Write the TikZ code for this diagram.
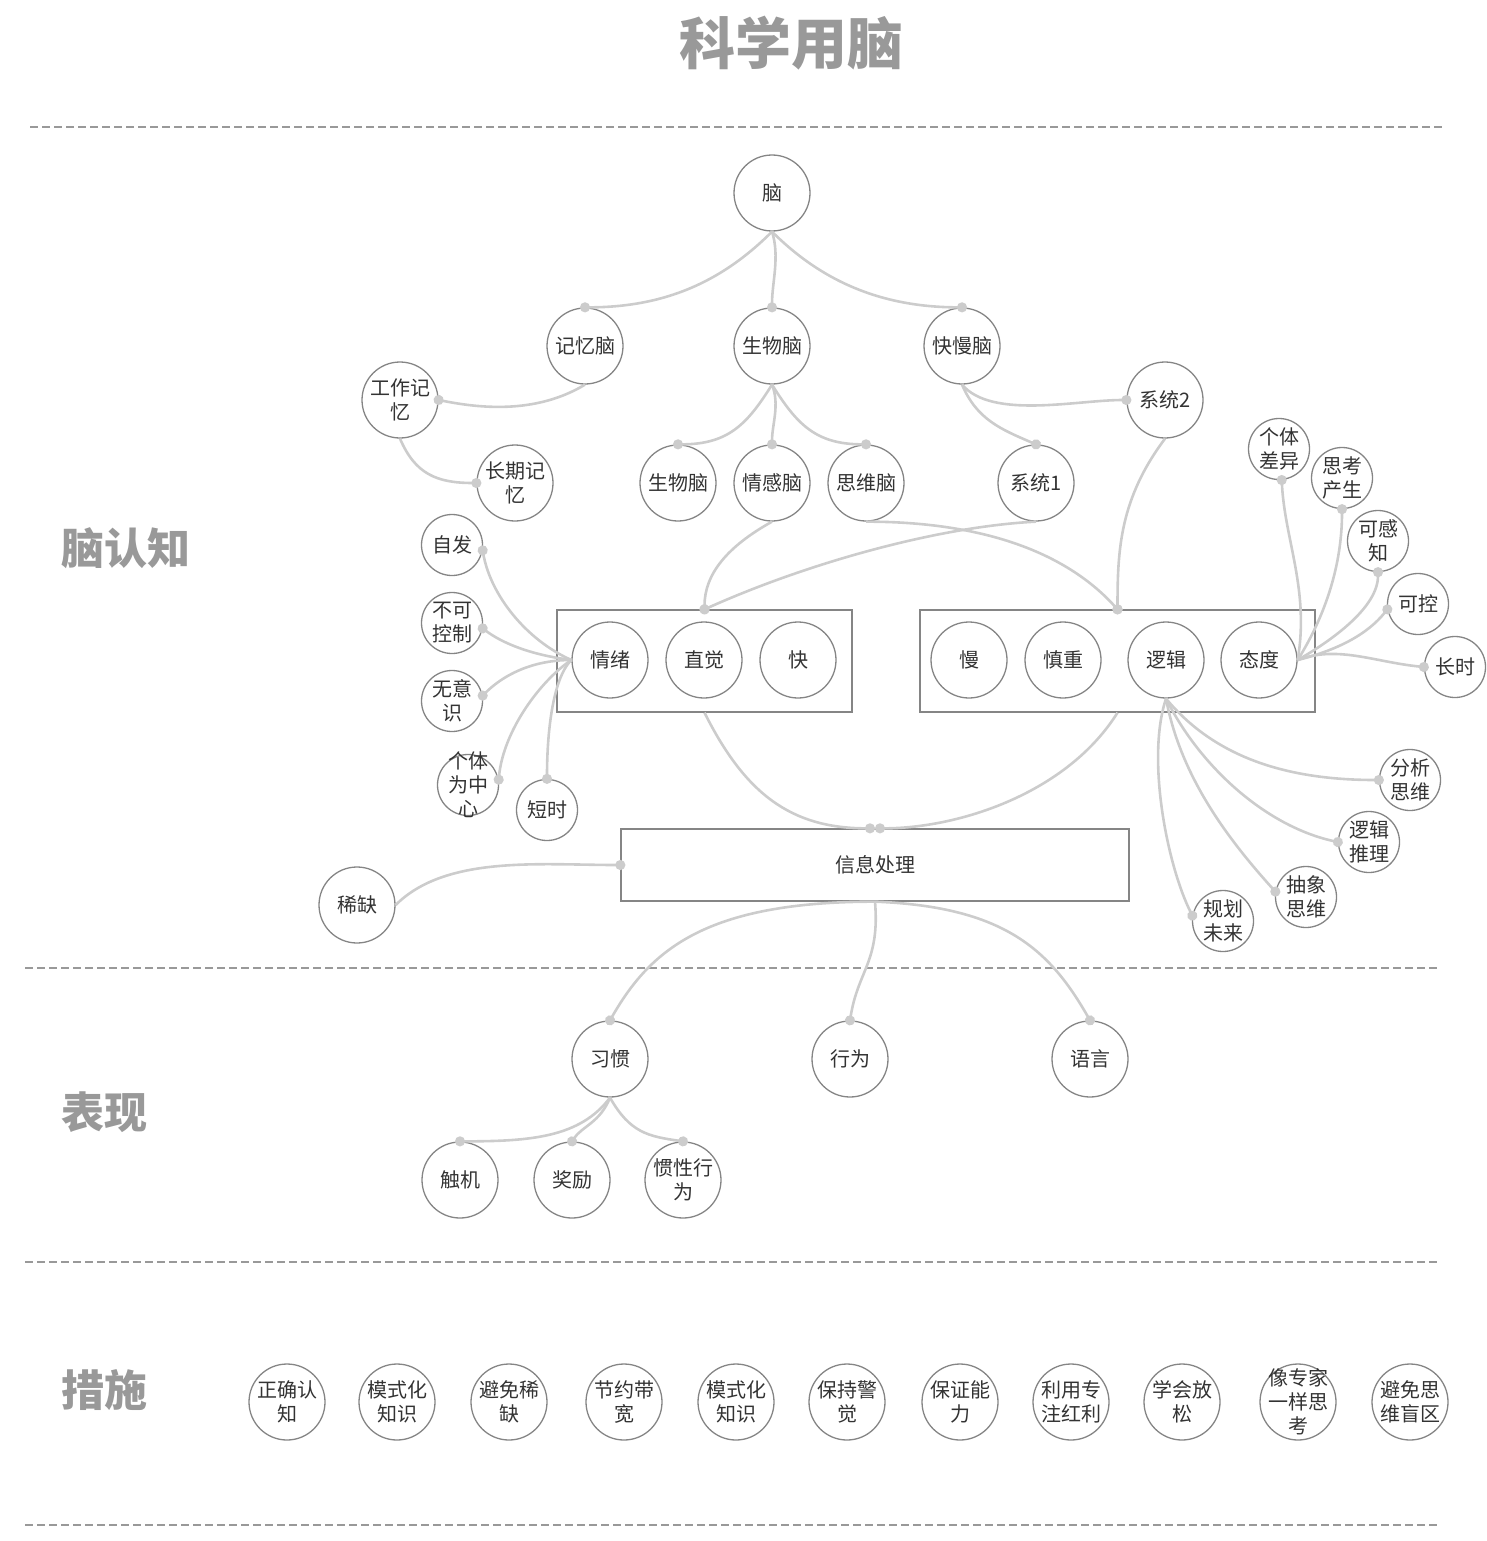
\documentclass[tikz,border=0pt]{standalone}
\usepackage{fontspec}
\setmainfont{Noto Sans CJK SC}
\usetikzlibrary{arrows.meta}
\definecolor{lg}{HTML}{CCCCCC}
\definecolor{bd}{HTML}{858585}
\definecolor{tx}{HTML}{333333}
\definecolor{hd}{HTML}{999999}
\begin{document}
\begin{tikzpicture}[x=1pt,y=-1pt,
 big/.style={circle,draw=bd,line width=1.3pt,minimum size=76pt,inner sep=0pt,align=center,font=\fontsize{20}{24}\selectfont,text=tx},
 small/.style={big,minimum size=61pt},
 tall/.style={inner sep=-12pt},
 box/.style={draw=bd,line width=1.3pt,inner sep=0pt,font=\fontsize{20}{24}\selectfont,text=tx},
 link/.style={draw=lg,line width=2.6pt,-{Circle[length=10pt]},shorten >=-5pt},
 sepline/.style={draw=hd,line width=2.4pt,dash pattern=on 8pt off 4pt},
 head/.style={font=\fontsize{43}{43}\selectfont\bfseries,text=hd,anchor=west},
]
\useasboundingbox (0,0) rectangle (1486,1541);

% title and section labels
\node[font=\fontsize{56}{56}\selectfont\bfseries,text=hd] (title) at (791,43) {科学用脑};
\node[head] (h1) at (58,548) {脑认知};
\node[head] (h2) at (58,1112) {表现};
\node[head] (h3) at (58,1390) {措施};

% separators
\draw[sepline] (30,127) -- (1442,127);
\draw[sepline] (25,968) -- (1437,968);
\draw[sepline] (25,1262) -- (1437,1262);
\draw[sepline] (25,1525) -- (1437,1525);

% top tree
\node[big] (brain) at (772,193) {脑};
\node[big] (mem) at (585,346) {记忆脑};
\node[big] (bio) at (772,346) {生物脑};
\node[big] (fs) at (962,346) {快慢脑};
\node[big] (work) at (400,400) {工作记\\忆};
\node[big] (long) at (515,483) {长期记\\忆};
\node[big] (bio2) at (678,483) {生物脑};
\node[big] (emo) at (772,483) {情感脑};
\node[big] (think) at (866,483) {思维脑};
\node[big] (sys1) at (1036,483) {系统1};
\node[big] (sys2) at (1165,400) {系统2};

% boxes
\node[box,minimum width=295pt,minimum height=102pt] (box1) at (704.5,661) {};
\node[big] (qx) at (610,660) {情绪};
\node[big] (zj) at (704,660) {直觉};
\node[big] (kuai) at (798,660) {快};
\node[box,minimum width=395pt,minimum height=102pt] (box2) at (1117.5,661) {};
\node[big] (man) at (969,660) {慢};
\node[big] (sz) at (1063,660) {慎重};
\node[big] (lj) at (1166,660) {逻辑};
\node[big] (td) at (1259,660) {态度};

% left leaves
\node[small] (zf) at (452,545) {自发};
\node[small] (bk) at (452,623) {不可\\控制};
\node[small] (wy) at (452,701) {无意\\识};
\node[small,tall] (gt) at (468,785) {个体\\为中\\心};
\node[small] (ds) at (547,810) {短时};

% right leaves
\node[small] (gc) at (1279,449) {个体\\差异};
\node[small] (sk) at (1342,478) {思考\\产生};
\node[small] (kg) at (1378,541) {可感\\知};
\node[small] (kk) at (1418,604) {可控};
\node[small] (cs) at (1455,667) {长时};
\node[small] (fx) at (1410,780) {分析\\思维};
\node[small] (tl) at (1369,842) {逻辑\\推理};
\node[small] (cx) at (1306,897) {抽象\\思维};
\node[small] (gh) at (1223,921) {规划\\未来};

% info processing
\node[box,minimum width=508pt,minimum height=72pt] (info) at (875,865) {信息处理};
\node[big] (xq) at (357,905) {稀缺};

% behaviour
\node[big] (xg) at (610,1059) {习惯};
\node[big] (xw) at (850,1059) {行为};
\node[big] (yy) at (1090,1059) {语言};
\node[big] (cj) at (460,1180) {触机};
\node[big] (jl) at (572,1180) {奖励};
\node[big] (gx) at (683,1180) {惯性行\\为};

% measures
\node[big] (m1) at (287,1402) {正确认\\知};
\node[big] (m2) at (397,1402) {模式化\\知识};
\node[big] (m3) at (509,1402) {避免稀\\缺};
\node[big] (m4) at (624,1402) {节约带\\宽};
\node[big] (m5) at (736,1402) {模式化\\知识};
\node[big] (m6) at (847,1402) {保持警\\觉};
\node[big] (m7) at (960,1402) {保证能\\力};
\node[big] (m8) at (1071,1402) {利用专\\注红利};
\node[big] (m9) at (1182,1402) {学会放\\松};
\node[big,tall] (m10) at (1298,1402) {像专家\\一样思\\考};
\node[big] (m11) at (1410,1402) {避免思\\维盲区};

% connectors
\draw[link] (brain.south) .. controls +(-50,50) and +(80,0) .. (mem.north);
\draw[link] (brain.south) .. controls +(8,25) and +(0,-25) .. (bio.north);
\draw[link] (brain.south) .. controls +(50,50) and +(-80,0) .. (fs.north);
\draw[link] (mem.south) .. controls +(-50,30) and +(40,8) .. (work.east);
\draw[link] (work.south) .. controls +(15,35) and +(-40,0) .. (long.west);
\draw[link] (bio.south) .. controls +(-25,40) and +(50,0) .. (bio2.north);
\draw[link] (bio.south) .. controls +(8,20) and +(0,-20) .. (emo.north);
\draw[link] (bio.south) .. controls +(25,40) and +(-50,0) .. (think.north);
\draw[link] (fs.south) .. controls +(30,35) and +(-50,0) .. (sys2.west);
\draw[link] (fs.south) .. controls +(15,35) and +(-35,-15) .. (sys1.north);
\draw[link] (emo.south) .. controls +(-45,25) and +(0,-35) .. (box1.north);
\draw[link] (sys1.south) .. controls +(-100,5) and +(100,-45) .. (box1.north);
\draw[link] (think.south) .. controls +(130,0) and +(-45,-50) .. (box2.north);
\draw[link] (sys2.south) .. controls +(-45,60) and +(0,-60) .. (box2.north);

\draw[link] (qx.west) .. controls +(-45,-20) and +(8,45) .. (zf.-10);
\draw[link] (qx.west) .. controls +(-40,-5) and +(20,15) .. (bk.-10);
\draw[link] (qx.west) .. controls +(-40,0) and +(20,-20) .. (wy.10);
\draw[link] (qx.west) .. controls +(-30,20) and +(5,-50) .. (gt.10);
\draw[link] (qx.west) .. controls +(-20,20) and +(0,-40) .. (ds.north);

\draw[link] (td.east) .. controls +(12,-70) and +(3,60) .. (gc.-85);
\draw[link] (td.east) .. controls +(25,-40) and +(0,60) .. (sk.south);
\draw[link] (td.east) .. controls +(35,-20) and +(0,35) .. (kg.south);
\draw[link] (td.east) .. controls +(40,-10) and +(-20,25) .. (kk.190);
\draw[link] (td.east) .. controls +(40,-15) and +(-50,-5) .. (cs.west);

\draw[link] (lj.south) .. controls +(50,60) and +(-90,0) .. (fx.west);
\draw[link] (lj.south) .. controls +(35,70) and +(-70,-15) .. (tl.west);
\draw[link] (lj.south) .. controls +(15,80) and +(-45,-50) .. (cx.170);
\draw[link] (lj.south) .. controls +(-20,60) and +(-25,-50) .. (gh.170);

\draw[link] (box1.south) .. controls +(40,80) and +(-80,0) .. ([xshift=-5pt]info.north);
\draw[link] (box2.south) .. controls +(-50,80) and +(80,0) .. ([xshift=5pt]info.north);
\draw[link] (xq.east) .. controls +(50,-50) and +(-80,0) .. (info.west);

\draw[link] (info.south) .. controls +(-170,0) and +(40,-70) .. (xg.north);
\draw[link] (info.south) .. controls +(5,60) and +(8,-50) .. (xw.north);
\draw[link] (info.south) .. controls +(130,5) and +(-40,-70) .. (yy.north);

\draw[link] (xg.south) .. controls +(-30,40) and +(70,0) .. (cj.north);
\draw[link] (xg.south) .. controls +(-10,25) and +(10,-15) .. (jl.north);
\draw[link] (xg.south) .. controls +(20,35) and +(-35,-5) .. (gx.north);
\end{tikzpicture}
\end{document}
